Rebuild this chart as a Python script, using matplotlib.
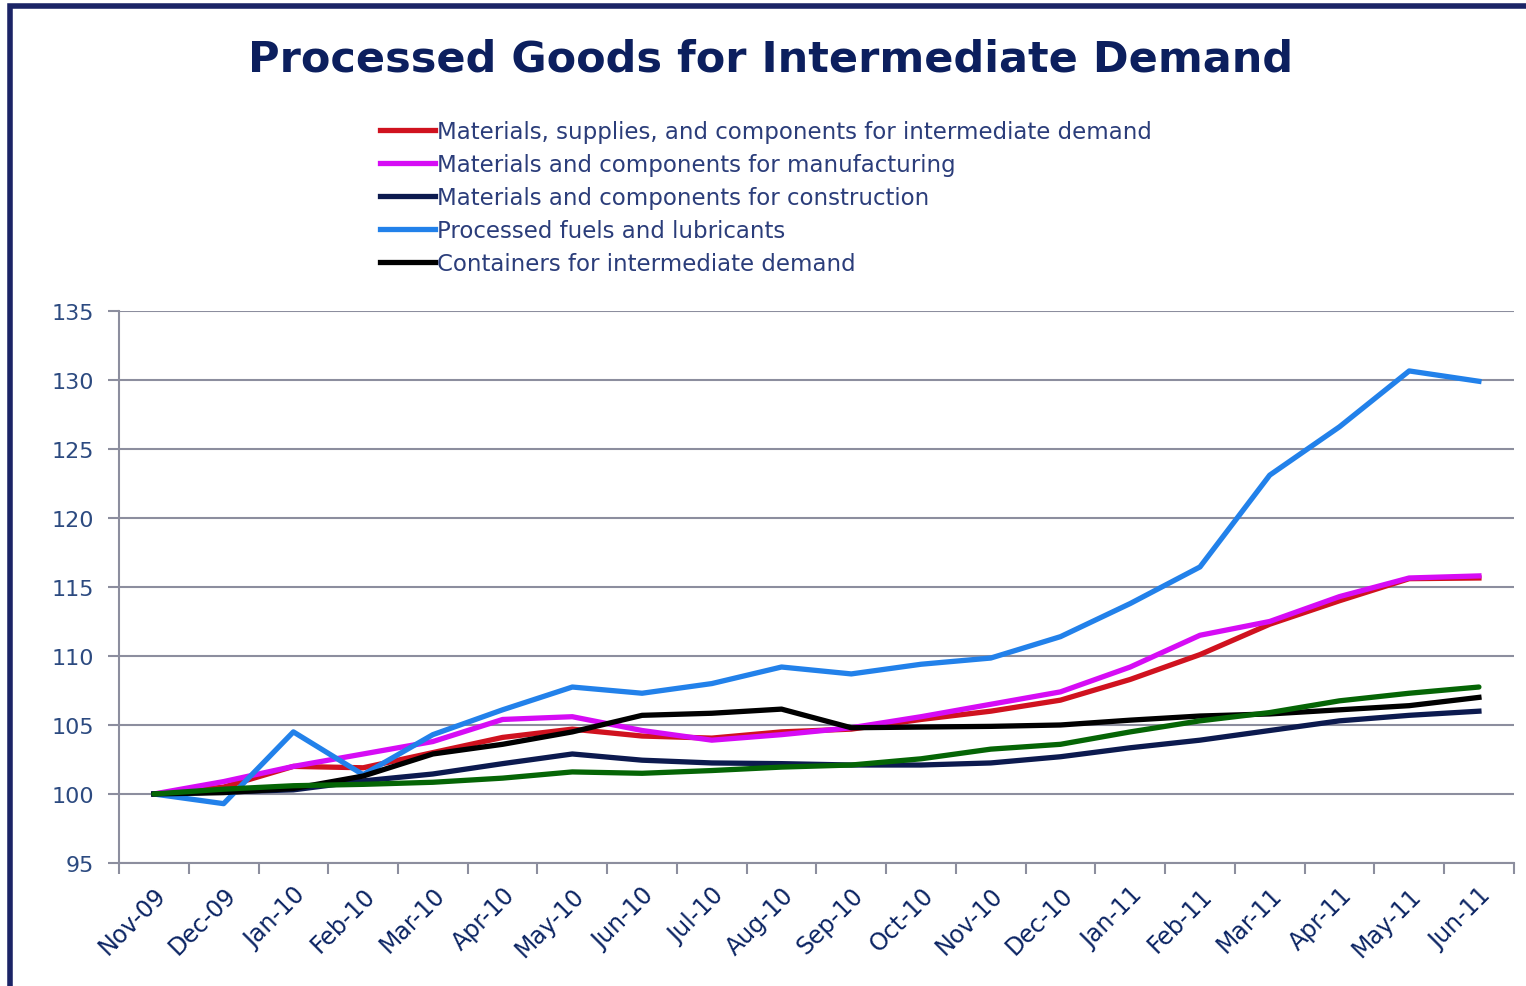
import numpy as np
import matplotlib.pyplot as plt
from matplotlib.patches import Rectangle

months = ['Nov-09', 'Dec-09', 'Jan-10', 'Feb-10', 'Mar-10', 'Apr-10', 'May-10', 'Jun-10',
          'Jul-10', 'Aug-10', 'Sep-10', 'Oct-10', 'Nov-10', 'Dec-10', 'Jan-11', 'Feb-11',
          'Mar-11', 'Apr-11', 'May-11', 'Jun-11']

# index values (Nov-09 = 100)
intermediate = [100, 100.5, 102.0, 101.9, 103.0, 104.1, 104.7, 104.2, 104.05, 104.5,
                104.7, 105.4, 106.0, 106.8, 108.3, 110.1, 112.3, 114.0, 115.6, 115.65]
manufacturing = [100, 100.9, 102.0, 102.9, 103.8, 105.4, 105.6, 104.6, 103.9, 104.3,
                 104.8, 105.6, 106.5, 107.4, 109.2, 111.5, 112.5, 114.3, 115.65, 115.8]
construction = [100, 100.15, 100.3, 100.95, 101.45, 102.2, 102.9, 102.45, 102.25, 102.2,
                102.1, 102.1, 102.25, 102.7, 103.35, 103.9, 104.6, 105.3, 105.7, 106.0]
fuels = [100, 99.3, 104.5, 101.4, 104.3, 106.1, 107.75, 107.3, 108.0, 109.2,
         108.7, 109.4, 109.85, 111.4, 113.8, 116.45, 123.1, 126.6, 130.65, 129.9]
containers = [100, 100.1, 100.4, 101.3, 102.9, 103.6, 104.5, 105.7, 105.85, 106.15,
              104.8, 104.85, 104.9, 105.0, 105.35, 105.65, 105.8, 106.1, 106.4, 107.0]
other = [100, 100.35, 100.6, 100.7, 100.85, 101.15, 101.6, 101.5, 101.7, 101.95,
         102.1, 102.55, 103.25, 103.6, 104.5, 105.3, 105.9, 106.75, 107.3, 107.75]

navy = '#0c1f5e'
x = np.arange(len(months))

fig = plt.figure(figsize=(15.26, 9.87), dpi=100)
ax = fig.add_axes([0.078, 0.1246, 0.914, 0.5594])

ax.plot(x, intermediate, color='#d0121f', lw=3.8, label='Materials, supplies, and components for intermediate demand')
ax.plot(x, manufacturing, color='#d60cf5', lw=3.8, label='Materials and components for manufacturing')
ax.plot(x, construction, color='#0c1a4f', lw=3.8, label='Materials and components for construction')
ax.plot(x, fuels, color='#2281ea', lw=3.8, label='Processed fuels and lubricants')
ax.plot(x, containers, color='black', lw=3.8, label='Containers for intermediate demand')
ax.plot(x, other, color='#056505', lw=3.8, solid_capstyle='round')

ax.set_xlim(-0.5, len(months) - 0.5)
ax.set_ylim(95, 135)
ax.set_yticks(range(95, 136, 5))
ax.yaxis.grid(True, color='#8c8e9e', lw=1.5)
ax.set_axisbelow(True)

ax.set_xticks(x)
ax.set_xticklabels(months, rotation=45, ha='right', rotation_mode='anchor',
                   fontsize=17, color='#0b2463')
ax.set_xticks(np.arange(-0.5, len(months), 1), minor=True)
ax.tick_params(axis='x', which='major', length=0, pad=14)
ax.tick_params(axis='x', which='minor', length=8, width=1.5, color='#8c8e9e')
ax.tick_params(axis='y', length=8, width=1.5, color='#8c8e9e', labelsize=16,
               labelcolor='#2c4a80', pad=10)
for s in ['top', 'right']:
    ax.spines[s].set_visible(False)
for s in ['left', 'bottom']:
    ax.spines[s].set_color('#8c8e9e')
    ax.spines[s].set_linewidth(1.5)

fig.text(0.505, 0.94, 'Processed Goods for Intermediate Demand', ha='center', va='center',
         fontsize=31, fontweight='bold', color=navy)

leg = fig.legend(loc='upper left', bbox_to_anchor=(0.243, 0.887), frameon=False,
                 fontsize=16.5, handlelength=2.4, handletextpad=0.1, labelspacing=0.44,
                 borderaxespad=0)
for t in leg.get_texts():
    t.set_color('#2b3d7a')

# frame around the chart (cut off at right and bottom)
fig.patches.append(Rectangle((0.0065, -0.1), 1.5, 1.093, transform=fig.transFigure,
                             fill=False, edgecolor='#1b2466', lw=4))

fig.savefig('out.png', dpi=100)
